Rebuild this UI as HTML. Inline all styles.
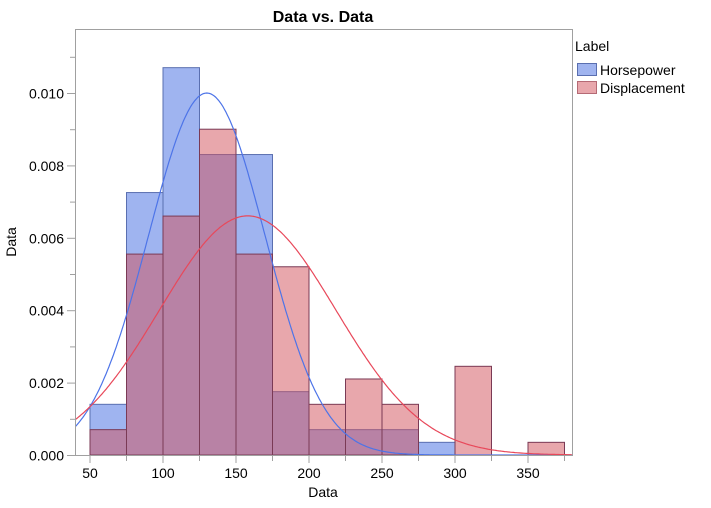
<!DOCTYPE html>
<html><head><meta charset="utf-8"><style>
body{margin:0;background:#fff;}
svg text{font-family:"Liberation Sans",sans-serif;}
</style></head><body>
<svg id="s" width="711" height="503" viewBox="0 0 711 503" xmlns="http://www.w3.org/2000/svg">
<rect width="711" height="503" fill="#fff"/>
<text x="323" y="22" font-size="16" font-weight="bold" text-anchor="middle">Data vs. Data</text>
<g id="bars"></g>
<g id="curves" fill="none" stroke-width="1.2"></g>
<rect x="75.5" y="29.5" width="497" height="426" fill="none" stroke="#a0a0a0"/>
<g id="ticks" stroke="#a0a0a0"></g>
<g id="labels" font-size="14" fill="#000"></g>
<text x="323" y="497" font-size="14" text-anchor="middle">Data</text>
<text x="16" y="242" font-size="14" text-anchor="middle" transform="rotate(-90 16 242)">Data</text>
<text x="575" y="51" font-size="14">Label</text>
<rect x="577.5" y="63.5" width="19" height="12" fill="#a0b4ef" stroke="#5a6fb0"/>
<text x="600" y="75" font-size="14">Horsepower</text>
<rect x="577.5" y="81.5" width="19" height="12" fill="#e8a7ac" stroke="#b56a75"/>
<text x="600" y="93" font-size="14">Displacement</text>
</svg>
<script>
const NS="http://www.w3.org/2000/svg";
const X=v=>90+(v-50)*1.46, Y=d=>455-d*36200;
function el(p,t,a){const e=document.createElementNS(NS,t);for(const k in a)e.setAttribute(k,a[k]);document.getElementById(p).appendChild(e);return e;}
const hp=[0.0014,0.00725,0.0107,0.0083,0.0083,0.00175,0.0007,0.0007,0.0007,0.00035];
const dp=[0.0007,0.00555,0.0066,0.009,0.00555,0.0052,0.0014,0.0021,0.0014,0,0.00245,0,0.00035];
hp.forEach((d,i)=>{if(d>0)el("bars","rect",{x:X(50+25*i),y:Y(d),width:36.5,height:455-Y(d),fill:"rgb(64,105,225)","fill-opacity":0.5,stroke:"#5a6fb0","stroke-width":1});});
dp.forEach((d,i)=>{if(d>0)el("bars","rect",{x:X(50+25*i),y:Y(d),width:36.5,height:455-Y(d),fill:"rgb(210,80,90)","fill-opacity":0.5,stroke:"#7a3a55","stroke-width":1});});
function curve(m,s,c){let p="";for(let v=40;v<=380;v+=1){const d=Math.exp(-0.5*((v-m)/s)**2)/(s*2.5066);const y=Y(d);if(y>455)continue;p+=(p?"L":"M")+X(v).toFixed(1)+","+y.toFixed(1);}el("curves","path",{d:p,stroke:c});}
curve(130,39.9,"#4d74e8");curve(158,60.4,"#e8485a");
for(let v=50;v<=375;v+=25){el("ticks","line",{x1:X(v),x2:X(v),y1:455.5,y2:v%50?461:463});}
for(let v=50;v<=350;v+=50){const t=el("labels","text",{x:X(v),y:478,"text-anchor":"middle"});t.textContent=v;}
for(let k=0;k<=11;k++){const y=Y(k*0.001)+0.5;el("ticks","line",{x1:k%2?70:67,x2:75.5,y1:y,y2:y});if(k%2==0&&k<=10){const t=el("labels","text",{x:64,y:y+5,"text-anchor":"end"});t.textContent=(k*0.001).toFixed(3);}}
</script>
</body></html>
